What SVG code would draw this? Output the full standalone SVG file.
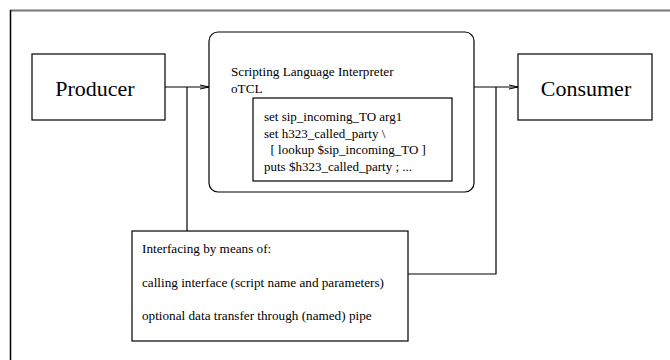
<svg xmlns="http://www.w3.org/2000/svg" width="670" height="360" viewBox="0 0 670 360">
<defs>
<marker id="arr" markerWidth="10" markerHeight="6" refX="9" refY="3" orient="auto" markerUnits="userSpaceOnUse">
<path d="M0,1 L9,3 L0,5" fill="none" stroke="#000" stroke-width="1"/>
</marker>
</defs>
<style>
.box{fill:#fff;stroke:#000;stroke-width:1.2}
.line{fill:none;stroke:#000;stroke-width:1.2}
.big{font-family:"Liberation Serif",serif;font-size:22px;fill:#000}
.t{font-family:"Liberation Serif",serif;font-size:13.2px;fill:#000}
.c{font-family:"Liberation Serif",serif;font-size:13px;fill:#000}
</style>
<rect width="670" height="360" fill="#fff"/>
<g id="frame">
<line x1="10" y1="10.5" x2="670" y2="10.5" stroke="#777" stroke-width="2"/>
<line x1="10.5" y1="10" x2="10.5" y2="360" stroke="#000" stroke-width="1.5"/>
</g>
<g id="connectors">
<polyline class="line" points="165,87 209,87" marker-end="url(#arr)"/>
<polyline class="line" points="187,87 187,231"/>
<polyline class="line" points="474,87 518,87" marker-end="url(#arr)"/>
<polyline class="line" points="496,87 496,274 408,274"/>
</g>
<g id="producer">
<rect class="box" x="32" y="54" width="133" height="66"/>
<text class="big" x="95" y="96" text-anchor="middle">Producer</text>
</g>
<g id="consumer">
<rect class="box" x="518" y="54" width="134" height="66"/>
<text class="big" x="586" y="96" text-anchor="middle">Consumer</text>
</g>
<g id="interpreter">
<rect class="box" x="209" y="32" width="265" height="160" rx="9" ry="9"/>
<text class="t" x="231" y="76">Scripting Language Interpreter</text>
<text class="t" x="231" y="93">oTCL</text>
</g>
<g id="script">
<rect class="box" x="253" y="98" width="199" height="83"/>
<text class="c" x="264" y="121">set sip_incoming_TO arg1</text>
<text class="c" x="264" y="137.5">set h323_called_party \</text>
<text class="c" x="264" y="154"><tspan x="264" xml:space="preserve">  [ lookup $sip_incoming_TO ]</tspan></text>
<text class="c" x="264" y="170.5">puts $h323_called_party ; ...</text>
</g>
<g id="interfacing">
<rect class="box" x="132" y="231" width="276" height="110"/>
<text class="t" x="142" y="253">Interfacing by means of:</text>
<text class="t" x="142" y="287">calling interface (script name and parameters)</text>
<text class="t" x="142" y="320">optional data transfer through (named) pipe</text>
</g>
</svg>
